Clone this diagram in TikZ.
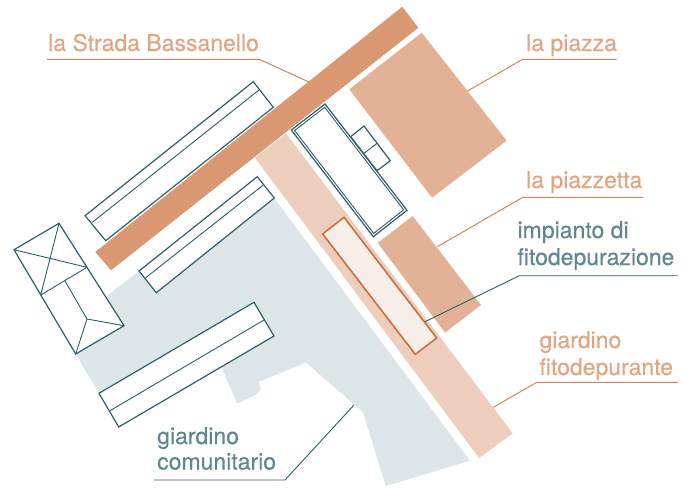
\documentclass[tikz,border=0pt]{standalone}
\usepackage{fontspec}
\setmainfont{TeX Gyre Heros}[FakeBold=0.25]
\definecolor{road}{HTML}{D99871}
\definecolor{piazza}{HTML}{E3B296}
\definecolor{strip}{HTML}{EDCDBC}
\definecolor{pool}{HTML}{F8EEE9}
\definecolor{poolline}{HTML}{C8703E}
\definecolor{garden}{HTML}{DCE5E7}
\definecolor{teal}{HTML}{2D5E6C}
\definecolor{tealtext}{HTML}{5F8792}
\definecolor{orangetext}{HTML}{E0A582}
\definecolor{orangeline}{HTML}{D5845A}
\tikzset{
  bld/.style={draw=teal,line width=1.2pt,fill=white,line join=miter},
  thin/.style={draw=teal,line width=0.9pt},
  ledo/.style={draw=orangeline,line width=1pt},
  ledt/.style={draw=teal,line width=0.9pt},
  labo/.style={text=orangetext,font=\fontsize{23}{27}\selectfont,inner sep=0pt,anchor=base west,align=left},
  labt/.style={text=tealtext,font=\fontsize{23}{27}\selectfont,inner sep=0pt,anchor=base west,align=left}
}
\begin{document}
\begin{tikzpicture}[x=1pt,y=-1pt]
\useasboundingbox (0,0) rectangle (683,488);
% garden
\fill[garden] (274,198) -- (470,460.7) -- (385.7,486) -- (362.7,411.7) -- (306,362.7) -- (258.7,381.7) -- (260.7,389.3) -- (256.7,394.3) -- (237.3,403.7) -- (221.7,367.7) -- (99,393.3) -- (75.7,354) -- (106.7,296) -- (139,271) -- cycle;
% strip
\fill[strip] (286,133.3) -- (255,157.7) -- (479,458) -- (512.7,433.3) -- cycle;
% road
\fill[road] (402.3,6.7) -- (418.3,27.7) -- (111,270.3) -- (95.3,252) -- cycle;
% piazza
\fill[piazza] (421.7,32.7) -- (506.7,140.7) -- (432,197.7) -- (349.3,89.3) -- cycle;
\fill[piazza] (412.7,216) -- (481,305) -- (445,332.7) -- (377.7,243) -- cycle;
% pool
\draw[draw=poolline,line width=1.6pt,fill=pool] (344,217.3) -- (436.7,338) -- (415.3,354.3) -- (322.7,234) -- cycle;
% annex
\draw[bld] (350.7,136.7) -- (364,126) -- (390.3,160.7) -- (377,170.7) -- cycle;
\draw[thin] (364,153.3) -- (377,143.3);
% double building
\draw[bld] (325,104) -- (407,210.3) -- (373.3,236.7) -- (291.3,130) -- cycle;
\draw[thin] (324.7,107.3) -- (403.7,209.8) -- (373.7,233.4) -- (294.6,130.5) -- cycle;
% buildings
\draw[bld] (253.3,81.7) -- (273.3,107.3) -- (105.7,240.7) -- (85,215.7) -- cycle;
\draw[thin] (92.3,222.3) -- (259,90);
\draw[bld] (257.3,176.7) -- (274.3,198) -- (156.3,292.7) -- (139,271) -- cycle;
\draw[thin] (145.7,277.7) -- (263.3,185);
\draw[bld] (254,302.3) -- (274,336) -- (118.7,427) -- (99,393.3) -- cycle;
\draw[thin] (110,410.7) -- (264,320);
% house
\draw[bld] (59,223.3) -- (124,325.7) -- (75.7,354) -- (14,249.7) -- cycle;
\draw[thin] (40.7,295) -- (87,267.3) (14,249.7) -- (87,267.3) (59,223.3) -- (40.7,295);
\draw[thin] (65,281) -- (87,319) -- (124,325.7) (87,319) -- (75.7,354);
% leaders
\coordinate (s1) at (47,59.3); \coordinate (s2) at (259.3,59.3); \coordinate (s3) at (308.3,81.7);
\draw[ledo] (s1) -- (s2) -- (s3);
\coordinate (p1) at (616.7,59.3); \coordinate (p2) at (522.7,59.3); \coordinate (p3) at (467.5,91);
\draw[ledo] (p1) -- (p2) -- (p3);
\coordinate (q1) at (643,197.3); \coordinate (q2) at (522.7,197.3); \coordinate (q3) at (437.3,246.7);
\draw[ledo] (q1) -- (q2) -- (q3);
\coordinate (i1) at (677.5,275.7); \coordinate (i2) at (519.3,275.7); \coordinate (i3) at (425,321.7);
\draw[ledt] (i1) -- (i2) -- (i3);
\coordinate (f1) at (678,382.3); \coordinate (f2) at (536.7,382.3); \coordinate (f3) at (493.3,407.3);
\draw[ledo] (f1) -- (f2) -- (f3);
\coordinate (c1) at (154,480); \coordinate (c2) at (285,480); \coordinate (c3) at (354,405);
\draw[ledt] (c1) -- (c2) -- (c3);
% labels
\node[labo] (lstrada) at (48,51) {la Strada Bassanello};
\node[labo] (lpiazza) at (526,51) {la piazza};
\node[labo] (lpiazzetta) at (526,188) {la piazzetta};
\node[labt] (limp1) at (517.3,238) {impianto di};
\node[labt] (limp2) at (517.3,265) {fitodepurazione};
\node[labo] (lgf1) at (539.3,348) {giardino};
\node[labo] (lgf2) at (539.3,375) {fitodepurante};
\node[labt] (lgc1) at (157,444) {giardino};
\node[labt] (lgc2) at (157,469.5) {comunitario};
\end{tikzpicture}
\end{document}
